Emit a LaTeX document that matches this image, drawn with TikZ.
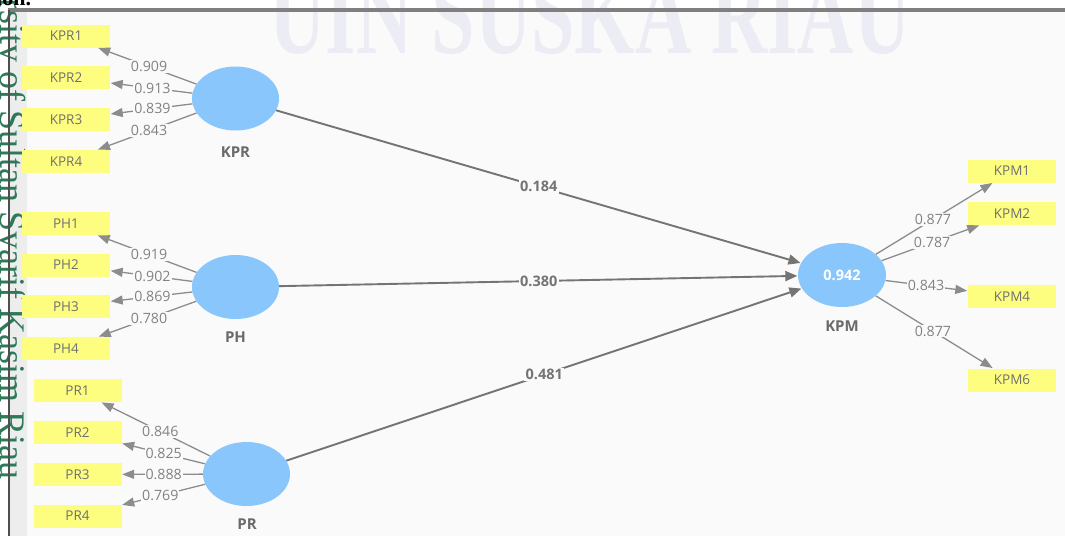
\documentclass[tikz,border=0pt]{standalone}
\usepackage{fontspec}
\setmainfont{Open Sans}
\newfontfamily\wmserif{Liberation Serif}
\usetikzlibrary{arrows.meta,calc,shapes.geometric}

\definecolor{panelbg}{HTML}{FAFAFA}
\definecolor{stripbg}{HTML}{EDEDED}
\definecolor{rulegrey}{HTML}{7F7F7F}
\definecolor{rulegreydark}{HTML}{4F4F4F}
\definecolor{itemyellow}{HTML}{FDFD80}
\definecolor{itemtext}{HTML}{707070}
\definecolor{latentblue}{HTML}{88C6FC}
\definecolor{latenttext}{HTML}{6A6A6A}
\definecolor{outerline}{HTML}{8C8C8C}
\definecolor{innerline}{HTML}{747474}
\definecolor{loadtext}{HTML}{828282}
\definecolor{wmlav}{HTML}{ECECF4}
\definecolor{wmgreen}{HTML}{2E7A58}

\tikzset{
  item/.style={fill=itemyellow, text=itemtext, minimum width=88pt, minimum height=23pt,
    inner sep=0pt, font=\fontsize{13.5}{13.5}\selectfont},
  latent/.style={ellipse, fill=latentblue, minimum width=87pt, minimum height=64pt, inner sep=0pt,
    text=white, font=\bfseries\fontsize{14.5}{14.5}\selectfont},
  latentname/.style={text=latenttext, font=\bfseries\fontsize{15}{15}\selectfont},
  outerarrow/.style={draw=outerline, line width=1.3pt,
    -{Triangle[length=12pt, width=9pt]}, shorten >=0.5pt},
  innerarrow/.style={draw=innerline, line width=1.9pt,
    -{Triangle[length=12pt, width=10pt]}, shorten >=0.5pt},
  loadlabel/.style={fill=panelbg, text=loadtext, inner sep=1pt,
    font=\fontsize{14.2}{14.2}\selectfont},
  pathlabel/.style={fill=panelbg, text=innerline, inner sep=1.5pt,
    font=\bfseries\fontsize{14.5}{14.5}\selectfont},
}

\begin{document}
\begin{tikzpicture}[x=1pt, y=-1pt]
  \clip (0,0) rectangle (1065,536);

  % page and panel backgrounds
  \fill[white] (0,0) rectangle (1065,536);
  \fill[stripbg] (10,10) rectangle (27,536);
  \fill[panelbg] (27,10) rectangle (1065,536);

  % page watermarks
  \node[anchor=base, text=wmlav, xscale=0.69, inner sep=0pt,
        font=\wmserif\bfseries\fontsize{113}{113}\selectfont] (wmtop) at (590,53) {UIN SUSKA RIAU};
  \node[anchor=base east, rotate=-90, text=wmgreen, inner sep=0pt,
        font=\wmserif\fontsize{36}{36}\selectfont] (wmside) at (0,480)
        {State Islamic University of Sultan Syarif Kasim Riau};
  \node[anchor=base west, inner sep=0pt, font=\wmserif\bfseries\fontsize{22}{22}\selectfont]
        (headtail) at (-4,5) {ion.};

  % frame rules
  \draw[rulegrey, line width=3.5pt] (8,10) -- (1065,10);
  \draw[rulegreydark, line width=2.5pt] (9,10) -- (9,536);

  % latent variables
  \node[latent] (KPR) at (235.5,98.5) {};
  \node[latent] (PH)  at (235.5,287) {};
  \node[latent] (PR)  at (246.5,474) {};
  \node[latent, minimum width=88pt] (KPM) at (842,275) {0.942};

  \node[latentname] (KPRname) at (235.5,152) {KPR};
  \node[latentname] (PHname)  at (235.5,337) {PH};
  \node[latentname] (PRname)  at (247,524) {PR};
  \node[latentname] (KPMname) at (842,326) {KPM};

  % indicators
  \node[item] (KPR1) at (66,36)    {KPR1};
  \node[item] (KPR2) at (66,77.5)  {KPR2};
  \node[item] (KPR3) at (66,119.5) {KPR3};
  \node[item] (KPR4) at (66,161.5) {KPR4};

  \node[item] (PH1) at (66,223.5) {PH1};
  \node[item] (PH2) at (66,265)   {PH2};
  \node[item] (PH3) at (66,306.5) {PH3};
  \node[item] (PH4) at (66,348.5) {PH4};

  \node[item] (PR1) at (77.5,390.5) {PR1};
  \node[item] (PR2) at (77.5,432.5) {PR2};
  \node[item] (PR3) at (77.5,474.5) {PR3};
  \node[item] (PR4) at (77.5,516)   {PR4};

  \node[item] (KPM1) at (1012,171)   {KPM1};
  \node[item] (KPM2) at (1012,213.5) {KPM2};
  \node[item] (KPM4) at (1012,296.5) {KPM4};
  \node[item] (KPM6) at (1012,380)   {KPM6};

  % outer loadings
  \foreach \lv/\ind in {KPR/KPR1,KPR/KPR2,KPR/KPR3,KPR/KPR4,
                        PH/PH1,PH/PH2,PH/PH3,PH/PH4,
                        PR/PR1,PR/PR2,PR/PR3,PR/PR4,
                        KPM/KPM1,KPM/KPM2,KPM/KPM4,KPM/KPM6}
    \draw[outerarrow] (\lv) -- (\ind);

  % structural paths
  \draw[innerarrow] (KPR) -- (KPM);
  \draw[innerarrow] (PH) -- (KPM);
  \draw[innerarrow] (PR) -- (KPM);

  % loading values
  \node[loadlabel] (lKPR1) at ($(KPR)!0.51!(KPR1)$) {0.909};
  \node[loadlabel] (lKPR2) at ($(KPR)!0.49!(KPR2)$) {0.913};
  \node[loadlabel] (lKPR3) at ($(KPR)!0.49!(KPR3)$) {0.839};
  \node[loadlabel] (lKPR4) at ($(KPR)!0.51!(KPR4)$) {0.843};

  \node[loadlabel] (lPH1) at ($(PH)!0.51!(PH1)$) {0.919};
  \node[loadlabel] (lPH2) at ($(PH)!0.49!(PH2)$) {0.902};
  \node[loadlabel] (lPH3) at ($(PH)!0.49!(PH3)$) {0.869};
  \node[loadlabel] (lPH4) at ($(PH)!0.51!(PH4)$) {0.780};

  \node[loadlabel] (lPR1) at ($(PR)!0.51!(PR1)$) {0.846};
  \node[loadlabel] (lPR2) at ($(PR)!0.49!(PR2)$) {0.825};
  \node[loadlabel] (lPR3) at ($(PR)!0.49!(PR3)$) {0.888};
  \node[loadlabel] (lPR4) at ($(PR)!0.51!(PR4)$) {0.769};

  \node[loadlabel] (lKPM1) at ($(KPM)!0.535!(KPM1)$) {0.877};
  \node[loadlabel] (lKPM2) at ($(KPM)!0.53!(KPM2)$)  {0.787};
  \node[loadlabel] (lKPM4) at ($(KPM)!0.494!(KPM4)$) {0.843};
  \node[loadlabel] (lKPM6) at ($(KPM)!0.535!(KPM6)$) {0.877};

  % path coefficients
  \node[pathlabel] (cKPR) at ($(KPR)!0.5!(KPM)$) {0.184};
  \node[pathlabel] (cPH)  at ($(PH)!0.5!(KPM)$)  {0.380};
  \node[pathlabel] (cPR)  at ($(PR)!0.5!(KPM)$)  {0.481};
\end{tikzpicture}
\end{document}
